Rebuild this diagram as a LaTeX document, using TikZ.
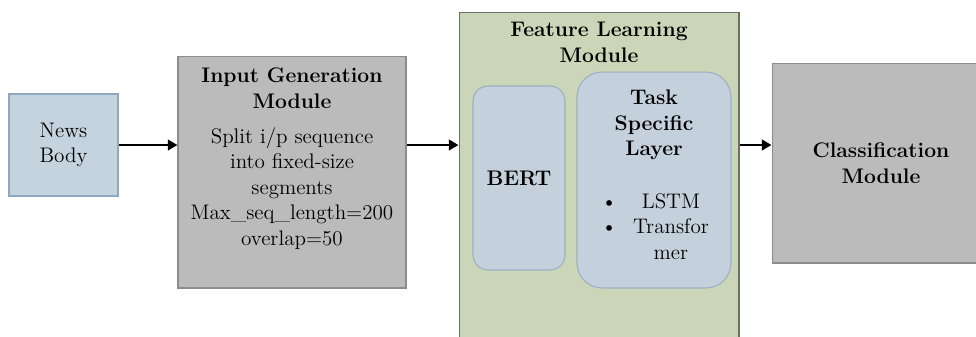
\documentclass[tikz,border=0pt]{standalone}
\usetikzlibrary{arrows.meta}
\definecolor{boxblue}{HTML}{C5D3DE}
\definecolor{lineblue}{HTML}{8EA9C1}
\definecolor{boxgray}{HTML}{BBBBBB}
\definecolor{linegray}{HTML}{8C8C8C}
\definecolor{boxgreen}{HTML}{CBD5B8}
\definecolor{linegreen}{HTML}{6E7066}
\definecolor{layerblue}{HTML}{C4D0DB}
\definecolor{layerline}{HTML}{9AB0C3}
\begin{document}
\begin{tikzpicture}[x=0.02cm, y=-0.02cm,
	every node/.style={font=\fontsize{12}{14.5}\selectfont, align=center, inner sep=0pt},
	bluebox/.style={draw=lineblue, fill=boxblue, line width=0.6pt},
	graybox/.style={draw=linegray, fill=boxgray, line width=0.6pt},
	greenbox/.style={draw=linegreen, fill=boxgreen, line width=0.6pt},
	layerbox/.style={draw=layerline, fill=layerblue, line width=0.6pt},
	flow/.style={line width=1.6pt, -{Triangle[length=5.5pt, width=6pt]}}]
	\clip (0,0) rectangle (976,336);
	
	\node[bluebox, minimum width=2.18cm, minimum height=2.04cm] (news) at (63.5,145) {News\\Body};
	
	\node[graybox, minimum width=4.56cm, minimum height=4.64cm] (igm) at (292,172) {};
	\node (igmtitle) at (292,88) {\textbf{Input Generation}\\\textbf{Module}};
	\node (igmtext) at (292,188.5) {Split i/p sequence\\into fixed-size\\segments\\Max\_seq\_length=200\\overlap=50};
	
	\node[greenbox, minimum width=5.6cm, minimum height=6.96cm] (flm) at (599,186) {};
	\node (flmtitle) at (599,42.5) {\textbf{Feature Learning}\\\textbf{Module}};
	\node[layerbox, rounded corners=0.3cm, minimum width=1.84cm, minimum height=3.68cm] (bert) at (519,178) {\textbf{BERT}};
	\node[layerbox, rounded corners=0.5cm, minimum width=3.08cm, minimum height=4.32cm] (tsl) at (654,180) {};
	\node (tsltitle) at (654,125) {\textbf{Task}\\\textbf{Specific}\\\textbf{Layer}};
	\node (tsllist) at (655,228.5) {\begin{tabular}{@{}c@{\hspace{9pt}}c@{}}
		\textbullet & LSTM\\
		\textbullet & Transfor\\
		 & mer
	\end{tabular}};
	
	\node[graybox, minimum width=4.36cm, minimum height=4cm] (cls) at (881,163) {\textbf{Classification}\\\textbf{Module}};
	
	\draw[flow] (news.east) -- (news.east -| igm.west);
	\draw[flow] (news.east -| igm.east) -- (news.east -| flm.west);
	\draw[flow] (news.east -| flm.east) -- (news.east -| cls.west);
\end{tikzpicture}
\end{document}
